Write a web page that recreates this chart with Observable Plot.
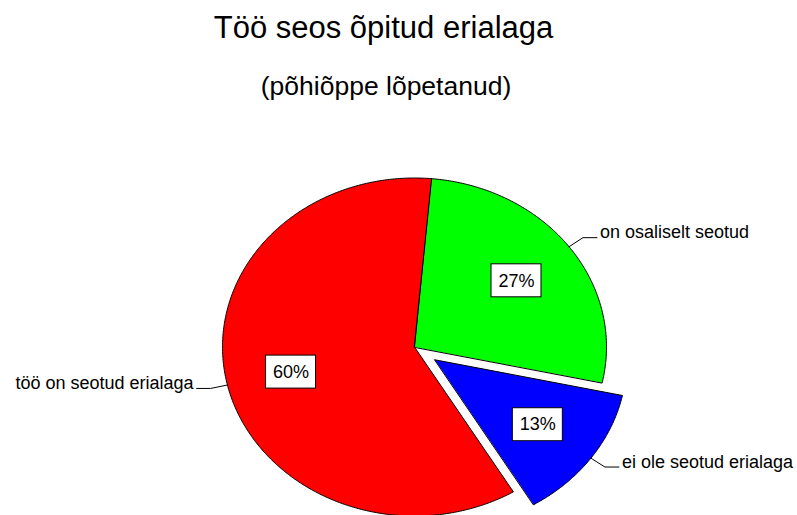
<!DOCTYPE html>
<html>
<head>
<meta charset="utf-8">
<script src="https://cdn.jsdelivr.net/npm/d3@7"></script>
<script src="https://cdn.jsdelivr.net/npm/@observablehq/plot@0.6"></script>
<style>
  html, body { margin: 0; padding: 0; background: #ffffff; }
  #chart svg { display: block; }
</style>
</head>
<body>
<div id="chart"></div>
<script>
// ---- data (clockwise order from the top) ----
const categories = ["on osaliselt seotud", "ei ole seotud erialaga", "töö on seotud erialaga"];
const values = [27, 13, 60];
const percentLabels = ["27%", "13%", "60%"];
const sliceColors = ["#00ff00", "#0000ff", "#ff0000"];
const exploded = [false, true, false];
const titleText = "Töö seos õpitud erialaga";
const subtitleText = "(põhiõppe lõpetanud)";

// ---- layout ----
const W = 797, H = 515;
const cx = 414, cy = 346.5, rx = 192, ry = 169;
const startAngle = 5;        // degrees clockwise from north
const explodeOffset = 0.13;  // in radius units
const labelRadius = 0.66;
const elbowRadius = 1.09;
const leaderLen = 14 / rx;
const gap = 3 / rx;
const boxHalfW = 25 / rx, boxHalfH = 16.5 / ry;
const font = "'Liberation Sans', Arial, sans-serif";

const rad = d => d * Math.PI / 180;
const total = d3.sum(values);
let acc = startAngle;
const slices = categories.map((c, i) => {
  const a0 = acc, a1 = acc + values[i] / total * 360;
  acc = a1;
  const mid = (a0 + a1) / 2;
  const off = exploded[i] ? explodeOffset : 0;
  const ox = off * Math.sin(rad(mid)), oy = -off * Math.cos(rad(mid));
  return {cat: c, value: values[i], label: percentLabels[i], color: sliceColors[i], a0, a1, mid, ox, oy};
});

// slice polygons
const piePts = [];
for (const s of slices) {
  piePts.push({cat: s.cat, color: s.color, x: s.ox, y: s.oy});
  const n = Math.max(2, Math.ceil((s.a1 - s.a0) / 0.5));
  for (let k = 0; k <= n; k++) {
    const a = rad(s.a0 + (s.a1 - s.a0) * k / n);
    piePts.push({cat: s.cat, color: s.color, x: s.ox + Math.sin(a), y: s.oy - Math.cos(a)});
  }
}

// leader lines and outer labels
const leaderPts = [];
const outerLabels = [];
for (const s of slices) {
  const sx = Math.sin(rad(s.mid)), sy = -Math.cos(rad(s.mid));
  const dir = sx >= 0 ? 1 : -1;
  const ex = s.ox + sx, ey = s.oy + sy;
  const bx = s.ox + sx * elbowRadius, by = s.oy + sy * elbowRadius;
  const hx = bx + dir * leaderLen;
  leaderPts.push({cat: s.cat, x: ex, y: ey}, {cat: s.cat, x: bx, y: by}, {cat: s.cat, x: hx, y: by});
  outerLabels.push({text: s.cat, x: hx + dir * gap, y: by, right: dir > 0});
}

// percentage boxes
const boxes = slices.map(s => ({
  text: s.label,
  x: s.ox + labelRadius * Math.sin(rad(s.mid)),
  y: s.oy - labelRadius * Math.cos(rad(s.mid))
}));

const chart = Plot.plot({
  width: W,
  height: H,
  margin: 0,
  style: {background: "#ffffff", fontFamily: font, overflow: "visible"},
  x: {domain: [-1, 1], range: [cx - rx, cx + rx], axis: null},
  y: {domain: [-1, 1], range: [cy - ry, cy + ry], axis: null},
  color: {type: "identity"},
  marks: [
    Plot.text([titleText], {text: d => d, frameAnchor: "top", lineAnchor: "bottom", dx: -15.5, dy: 37,
      fontSize: 31, fill: "#000", fontFamily: font}),
    Plot.text([subtitleText], {text: d => d, frameAnchor: "top", lineAnchor: "bottom", dx: -13, dy: 94,
      fontSize: 26.5, fill: "#000", fontFamily: font}),
    Plot.line(piePts, {x: "x", y: "y", z: "cat", fill: "color", stroke: "#000", strokeWidth: 1,
      curve: "linear-closed", strokeLinejoin: "miter"}),
    Plot.line(leaderPts, {x: "x", y: "y", z: "cat", stroke: "#000", strokeWidth: 1}),
    Plot.text(outerLabels.filter(d => d.right), {x: "x", y: "y", text: "text", textAnchor: "start", dy: -5,
      fontSize: 18, fill: "#000", fontFamily: font}),
    Plot.text(outerLabels.filter(d => !d.right), {x: "x", y: "y", text: "text", textAnchor: "end", dy: -5,
      fontSize: 18, fill: "#000", fontFamily: font}),
    Plot.rect(boxes, {x1: d => d.x - boxHalfW, x2: d => d.x + boxHalfW, y1: d => d.y - boxHalfH, y2: d => d.y + boxHalfH,
      fill: "#ffffff", stroke: "#000", strokeWidth: 1}),
    Plot.text(boxes, {x: "x", y: "y", text: "text", fontSize: 18, fill: "#000", fontFamily: font})
  ]
});
document.getElementById("chart").appendChild(chart);
</script>
</body>
</html>
